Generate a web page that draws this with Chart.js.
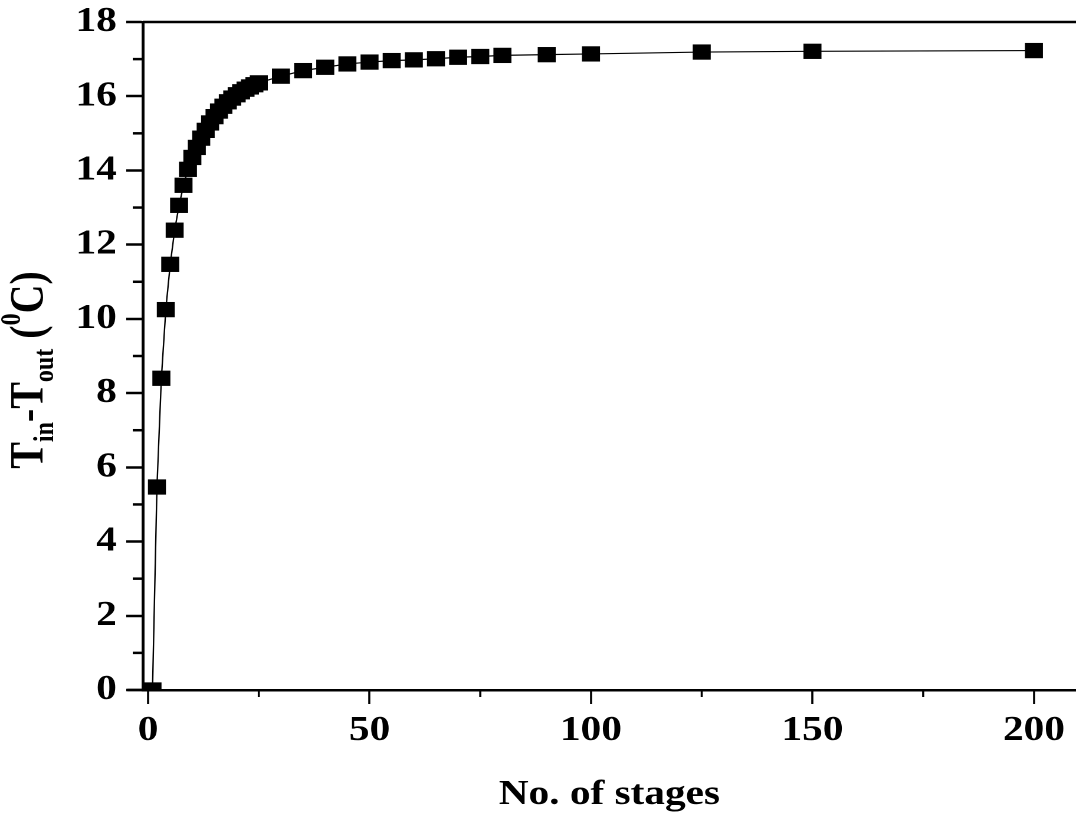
<!DOCTYPE html>
<html>
<head>
<meta charset="utf-8">
<script src="https://cdn.jsdelivr.net/npm/chart.js@4/dist/chart.umd.min.js"></script>
<style>
  html, body { margin: 0; padding: 0; background: #fff; overflow: hidden; }
  /* the original figure is stretched sideways, so the chart is drawn narrow and scaled */
  #wrap { width: 912px; height: 813px; transform: scaleX(1.1798); transform-origin: 0 0; }
</style>
</head>
<body>
<div id="wrap"><canvas id="chart" width="912" height="813"></canvas></div>
<script>
// number of stages and temperature drop
const stages = [1, 2, 3, 4, 5, 6, 7, 8, 9, 10, 11, 12, 13, 14, 15, 16, 17, 18, 19, 20,
  21, 22, 23, 24, 25, 30, 35, 40, 45, 50, 55, 60, 65, 70, 75, 80, 90, 100, 125, 150, 200];
const tempDrop = [0, 5.47, 8.4, 10.25, 11.47, 12.39, 13.06, 13.6, 14.03, 14.35, 14.62, 14.87,
  15.08, 15.28, 15.45, 15.6, 15.73, 15.85, 15.95, 16.04, 16.12, 16.19, 16.25, 16.31, 16.36,
  16.54, 16.69, 16.78, 16.87, 16.92, 16.96, 16.98, 17.01, 17.05, 17.07, 17.1, 17.12, 17.14,
  17.19, 17.21, 17.23];

const xMajorTicks = [0, 50, 100, 150, 200];
const xMinorTicks = [25, 75, 125, 175];
const yMajorTicks = [0, 2, 4, 6, 8, 10, 12, 14, 16, 18];
const yMinorTicks = [1, 3, 5, 7, 9, 11, 13, 15, 17];

const xTitle = "No. of stages";
const yTitleParts = [
  { text: "T", small: false, shift: 0 },
  { text: "in", small: true, shift: 9 },
  { text: "-T", small: false, shift: 0 },
  { text: "out", small: true, shift: 9 },
  { text: " (", small: false, shift: 0 },
  { text: "0", small: true, shift: -19 },
  { text: "C)", small: false, shift: 0 },
];

const serif = "'Liberation Serif', 'Times New Roman', serif";

// top frame line, minor ticks and the y title with sub/superscripts
const extras = {
  id: "extras",
  afterDraw(chart) {
    const ctx = chart.ctx;
    const area = chart.chartArea;
    const xs = chart.scales.x;
    const ys = chart.scales.y;
    ctx.save();
    ctx.strokeStyle = "#000";

    ctx.lineWidth = 2.5;
    ctx.beginPath();
    ctx.moveTo(area.left, area.top);
    ctx.lineTo(area.right, area.top);
    ctx.stroke();
    // x axis line runs a little past the y axis
    ctx.beginPath();
    ctx.moveTo(area.left - 13, area.bottom);
    ctx.lineTo(area.left, area.bottom);
    ctx.stroke();

    ctx.lineWidth = 1.8;
    xMinorTicks.forEach((v) => {
      const px = xs.getPixelForValue(v);
      ctx.beginPath();
      ctx.moveTo(px, area.bottom);
      ctx.lineTo(px, area.bottom + 7);
      ctx.stroke();
    });
    ctx.lineWidth = 2.5;
    yMinorTicks.forEach((v) => {
      const py = ys.getPixelForValue(v);
      ctx.beginPath();
      ctx.moveTo(area.left - 8.5, py);
      ctx.lineTo(area.left, py);
      ctx.stroke();
    });

    ctx.fillStyle = "#000";
    ctx.textBaseline = "alphabetic";
    ctx.textAlign = "left";
    const bigFont = "bold 40px " + serif;
    const smallFont = "bold 24px " + serif;
    let total = 0;
    yTitleParts.forEach((p) => {
      ctx.font = p.small ? smallFont : bigFont;
      total += ctx.measureText(p.text).width;
    });
    ctx.translate(36, 370);
    ctx.rotate(-Math.PI / 2);
    let pos = -total / 2;
    yTitleParts.forEach((p) => {
      ctx.font = p.small ? smallFont : bigFont;
      ctx.fillText(p.text, pos, p.shift);
      pos += ctx.measureText(p.text).width;
    });
    ctx.restore();
  },
};

new Chart(document.getElementById("chart"), {
  type: "line",
  data: {
    datasets: [
      {
        data: stages.map((s, i) => ({ x: s, y: tempDrop[i] })),
        borderColor: "#000",
        borderWidth: 1.2,
        backgroundColor: "#000",
        pointStyle: "rect",
        pointRadius: 10.8,
        pointBorderWidth: 0,
        pointBackgroundColor: "#000",
        tension: 0,
      },
    ],
  },
  options: {
    responsive: false,
    animation: false,
    devicePixelRatio: 2,
    layout: { autoPadding: false, padding: { top: 21, right: 0, bottom: 0, left: 0 } },
    plugins: { legend: { display: false }, tooltip: { enabled: false } },
    scales: {
      x: {
        type: "linear",
        min: -1.2,
        max: 209.5,
        afterBuildTicks: (axis) => {
          axis.ticks = xMajorTicks.map((v) => ({ value: v }));
        },
        afterFit: (axis) => {
          // the plot runs off the right edge of the figure
          axis.paddingLeft = 0;
          axis.paddingRight = 0;
        },
        ticks: {
          padding: 6,
          maxRotation: 0,
          color: "#000",
          font: { family: serif, size: 35, weight: "bold" },
        },
        grid: {
          drawOnChartArea: false,
          tickLength: 14,
          tickColor: "#000",
          tickWidth: 1.8,
        },
        border: { color: "#000", width: 2.5 },
        title: {
          display: true,
          text: xTitle,
          color: "#000",
          padding: { top: 16, bottom: -3 },
          font: { family: serif, size: 35, weight: "bold" },
        },
      },
      y: {
        min: 0,
        max: 18,
        afterBuildTicks: (axis) => {
          axis.ticks = yMajorTicks.map((v) => ({ value: v }));
        },
        afterFit: (axis) => {
          axis.width = 121;
        },
        ticks: {
          padding: 8,
          color: "#000",
          font: { family: serif, size: 35, weight: "bold", lineHeight: 0.8 },
        },
        grid: {
          drawOnChartArea: false,
          tickLength: 14,
          tickColor: "#000",
          tickWidth: 2.5,
        },
        border: { color: "#000", width: 2.5 },
      },
    },
  },
  plugins: [extras],
});
</script>
</body>
</html>
